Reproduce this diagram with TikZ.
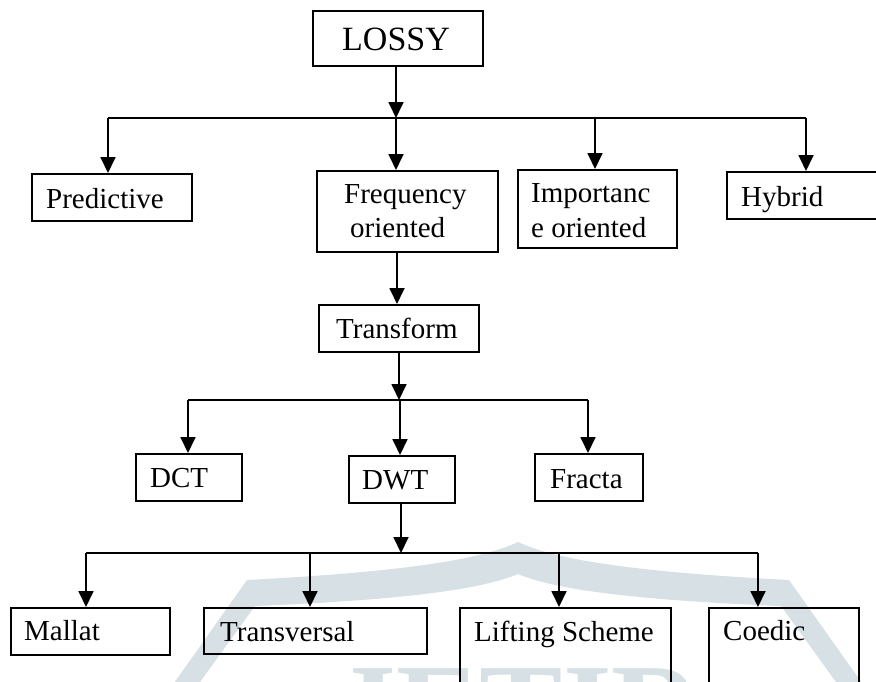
\documentclass[tikz,border=0pt]{standalone}
\usepackage{fontspec}
\setmainfont{Liberation Serif}
\usetikzlibrary{arrows.meta}
\definecolor{wm}{RGB}{214,224,229}
\begin{document}
\begin{tikzpicture}[x=1pt,y=-1pt,
  box/.style={draw=black, line width=1.6pt, inner sep=0pt, anchor=north west},
  txt/.style={inner sep=0pt, anchor=base west, font=\fontsize{29}{34}\selectfont},
  ln/.style={draw=black, line width=1.8pt},
  arr/.style={ln, -{Triangle[width=15pt,length=16pt]}},
  wmtxt/.style={inner sep=0pt, anchor=base, text=wm, font=\fontsize{125}{125}\selectfont\bfseries}]
\useasboundingbox (0,0) rectangle (876,681);
\clip (0,0) rectangle (876,681);
% watermark
\fill[wm] (162,700) -- (247,580) .. controls (400,572) and (480,560) .. (518,542)
  .. controls (556,560) and (636,572) .. (789,580) -- (874,700) -- (849,700)
  -- (781,606) .. controls (636,600) and (556,590) .. (518,574)
  .. controls (480,590) and (400,600) .. (255,606) -- (187,700) -- cycle;
\node[wmtxt] (wmt) at (518,750) {JETIR};
% boxes
\node[box, minimum width=170pt, minimum height=55pt] (lossy) at (312,10) {};
\node[box, minimum width=160pt, minimum height=47pt] (pred) at (31,173) {};
\node[box, minimum width=181pt, minimum height=81pt] (freq) at (316,170) {};
\node[box, minimum width=159pt, minimum height=78pt] (imp) at (517,169) {};
\node[box, minimum width=180pt, minimum height=47pt] (hyb) at (726,171) {};
\node[box, minimum width=160pt, minimum height=47pt] (trans) at (318,304) {};
\node[box, minimum width=106pt, minimum height=47pt] (dct) at (135,453) {};
\node[box, minimum width=106pt, minimum height=47pt] (dwt) at (348,455) {};
\node[box, minimum width=108pt, minimum height=47pt] (fract) at (534,453) {};
\node[box, minimum width=159pt, minimum height=47pt] (mallat) at (10,607) {};
\node[box, minimum width=223pt, minimum height=46pt] (transv) at (203,607) {};
\node[box, minimum width=211pt, minimum height=100pt] (lift) at (459,607) {};
\node[box, minimum width=150pt, minimum height=100pt] (coedic) at (708,607) {};
% texts
\node[txt, font=\fontsize{34}{40}\selectfont] (tlossy) at (342,50) {LOSSY};
\node[txt] (tpred) at (46,208) {Predictive};
\node[txt] (tfreq1) at (344,203) {Frequency};
\node[txt] (tfreq2) at (350,237) {oriented};
\node[txt] (timp1) at (531,202) {Importanc};
\node[txt] (timp2) at (531,237) {e oriented};
\node[txt] (thyb) at (741,206) {Hybrid};
\node[txt] (ttrans) at (336,338) {Transform};
\node[txt] (tdct) at (150,487) {DCT};
\node[txt] (tdwt) at (362,489) {DWT};
\node[txt] (tfract) at (550,488) {Fracta};
\node[txt] (tmallat) at (24,640) {Mallat};
\node[txt] (ttransv) at (220,641) {Transversal};
\node[txt] (tlift) at (474,641) {Lifting Scheme};
\node[txt] (tcoedic) at (723,640) {Coedic};
% level 1
\coordinate (b1L) at (108,118);
\coordinate (b1) at (396,118);
\coordinate (b1c) at (595,118);
\coordinate (b1R) at (806,118);
\draw[arr] (lossy.south -| b1) -- (b1);
\draw[ln] (b1L) -- (b1R);
\draw[arr] (b1L) -- (b1L |- pred.north);
\draw[arr] (b1) -- (b1 |- freq.north);
\draw[arr] (b1c) -- (b1c |- imp.north);
\draw[arr] (b1R) -- (b1R |- hyb.north);
% level 2
\coordinate (ft) at (397,251);
\draw[arr] (freq.south -| ft) -- (ft |- trans.north);
\coordinate (b2L) at (188,400);
\coordinate (b2) at (399,400);
\coordinate (b2c) at (400,400);
\coordinate (b2R) at (588,400);
\draw[arr] (trans.south -| b2) -- (b2);
\draw[ln] (b2L) -- (b2R);
\draw[arr] (b2L) -- (b2L |- dct.north);
\draw[arr] (b2c) -- (b2c |- dwt.north);
\draw[arr] (b2R) -- (b2R |- fract.north);
% level 3
\coordinate (b3L) at (86,553);
\coordinate (b3) at (401,553);
\coordinate (b3a) at (310,553);
\coordinate (b3b) at (559,553);
\coordinate (b3R) at (758,553);
\draw[arr] (dwt.south -| b3) -- (b3);
\draw[ln] (b3L) -- (b3R);
\draw[arr] (b3L) -- (b3L |- mallat.north);
\draw[arr] (b3a) -- (b3a |- transv.north);
\draw[arr] (b3b) -- (b3b |- lift.north);
\draw[arr] (b3R) -- (b3R |- coedic.north);
\end{tikzpicture}
\end{document}
